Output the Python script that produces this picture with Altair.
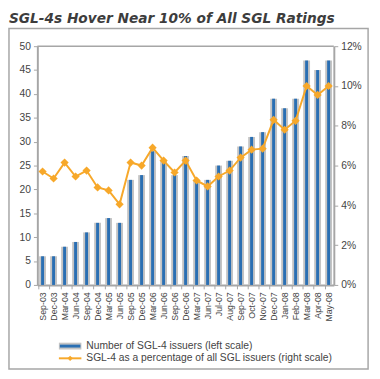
import altair as alt
import pandas as pd

title_text = "SGL-4s Hover Near 10% of All SGL Ratings"
months = ["Sep-03", "Dec-03", "Mar-04", "Jun-04", "Sep-04", "Dec-04", "Mar-05", "Jun-05",
          "Sep-05", "Dec-05", "Mar-06", "Jun-06", "Sep-06", "Dec-06", "Mar-07", "Jun-07",
          "Jul-07", "Aug-07", "Sep-07", "Oct-07", "Nov-07", "Dec-07", "Jan-08", "Feb-08",
          "Mar-08", "Apr-08", "May-08"]
issuers = [6, 6, 8, 9, 11, 13, 14, 13, 22, 23, 28, 26, 23, 27, 22, 22,
           25, 26, 29, 31, 32, 39, 37, 39, 47, 45, 47]
pct = [5.7, 5.35, 6.15, 5.45, 5.75, 4.9, 4.75, 4.05, 6.15, 6.0, 6.9, 6.25, 5.65, 6.25, 5.25, 4.95,
       5.45, 5.75, 6.4, 6.8, 6.85, 8.3, 7.8, 8.25, 10.0, 9.55, 10.0]
series_names = ["Number of SGL-4 issuers (left scale)",
                "SGL-4 as a percentage of all SGL issuers (right scale)"]

df = pd.DataFrame({"month": months, "issuers": issuers, "pct": [p / 100 for p in pct]})

W, H = 303, 244
GRAY = "#a6a6a6"
LABEL = "#444444"
BLUE = "#2a6fb3"
BARGRAY = "#c4c4c4"
ORANGE = "#f7a82a"
FONT = "Liberation Sans"

xenc = alt.X("month:N", sort=months, title=None,
             scale=alt.Scale(paddingInner=0.35, paddingOuter=0.15),
             axis=alt.Axis(labelAngle=-90, labelFontSize=9, labelColor=LABEL, labelFont=FONT,
                           domainColor=GRAY, domainWidth=2, tickColor=GRAY, tickSize=4,
                           bandPosition=0, labelPadding=3))

left_axis = alt.Axis(values=list(range(0, 51, 5)), labelFontSize=10.5, labelColor=LABEL,
                     labelFont=FONT, domainColor=GRAY, domainWidth=2, tickColor=GRAY,
                     tickSize=4, grid=False, labelPadding=3, orient="left")
right_axis = alt.Axis(orient="right", values=[0, 0.02, 0.04, 0.06, 0.08, 0.10, 0.12],
                      format=".0%", labelFontSize=10.5, labelColor=LABEL, labelFont=FONT,
                      domainColor=GRAY, domainWidth=2, tickColor=GRAY, tickSize=4,
                      grid=False, labelPadding=3)

def yl():
    return alt.Y("issuers:Q", title=None, scale=alt.Scale(domain=[0, 50]), axis=left_axis)

def yr():
    return alt.Y("pct:Q", title=None, scale=alt.Scale(domain=[0, 0.12]), axis=right_axis)

bars_gray = alt.Chart(df).mark_bar(size=7, color=BARGRAY).encode(x=xenc, y=yl())
bars_blue = alt.Chart(df).mark_bar(size=3, color=BLUE).encode(x=xenc, y=yl())
bars = alt.layer(bars_gray, bars_blue)

line = alt.Chart(df).mark_line(color=ORANGE, strokeWidth=2).encode(x=xenc, y=yr())
pts = alt.Chart(df).mark_point(shape="diamond", filled=True, size=70, color=ORANGE, opacity=1).encode(
    x=xenc, y=yr())
lines = alt.layer(line, pts)

one = pd.DataFrame({"k": [0]})
top_rule = alt.Chart(one).mark_rule(color=GRAY, strokeWidth=1.5).encode(
    x=alt.value(0), x2=alt.value(W), y=alt.value(0))
border = alt.Chart(one).mark_rect(fill=None, stroke=GRAY, strokeWidth=1.5, clip=False).encode(
    x=alt.value(-29), x2=alt.value(338), y=alt.value(-18), y2=alt.value(330))
title = alt.Chart(one).mark_text(text=title_text, align="left", baseline="alphabetic",
                                 font="DejaVu Sans", fontSize=14, fontWeight="bold",
                                 fontStyle="italic", color="#3d3d3d").encode(
    x=alt.value(-29), y=alt.value(-24))

leg_gray = alt.Chart(one).mark_rect(color=BARGRAY).encode(
    x=alt.value(22), x2=alt.value(45), y=alt.value(303), y2=alt.value(310))
leg_blue = alt.Chart(one).mark_rect(color=BLUE).encode(
    x=alt.value(23), x2=alt.value(44), y=alt.value(305), y2=alt.value(308))
leg_line = alt.Chart(one).mark_rule(color=ORANGE, strokeWidth=2).encode(
    x=alt.value(22), x2=alt.value(45), y=alt.value(319))
leg_pt = alt.Chart(one).mark_point(shape="diamond", filled=True, size=30, color=ORANGE, opacity=1).encode(
    x=alt.value(33.5), y=alt.value(319))
leg_df = pd.DataFrame({"name": series_names, "yy": [306.5, 319]})
leg_text = alt.Chart(leg_df).mark_text(align="left", baseline="middle", fontSize=10.5,
                                       font=FONT, color=LABEL).encode(
    text="name:N", x=alt.value(50), y=alt.Y("yy:Q", scale=None, axis=None))

base = alt.layer(bars, lines).resolve_scale(y="independent")
deco = alt.layer(top_rule, border, title, leg_gray, leg_blue, leg_line, leg_pt, leg_text)
chart = alt.layer(base, deco).resolve_scale(y="independent").properties(
    width=W, height=H,
    autosize=alt.AutoSizeParams(type="none"),
    padding={"left": 30, "top": 35, "right": 39, "bottom": 87},
).configure_view(stroke=None)

chart.save("out.html", embed_options={"renderer": "svg", "actions": False})
